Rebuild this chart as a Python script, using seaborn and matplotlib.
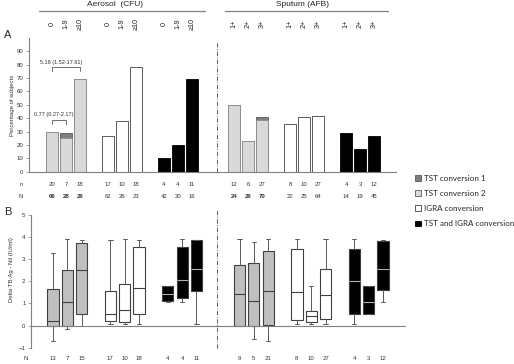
import matplotlib
matplotlib.use("Agg")
import matplotlib.pyplot as plt
import matplotlib.transforms as mtransforms
from matplotlib.patches import Patch
from matplotlib.lines import Line2D
import seaborn as sns

# %% data -----------------------------------------------------------------
aerosol_cats = ["0", "1-9", "\u226510"]
sputum_cats = ["1+", "2+", "3+"]

# Panel A: % of subjects converting (aerosol groups first, then sputum groups)
tst2_pct = [30, 25, 69, 50, 23, 39]
tst1_pct = [0, 4, 0, 0, 0, 2]
igra_pct = [27, 38, 78, 36, 41, 42]
both_pct = [10, 20, 69, 29, 17, 27]

# slot order: aerosol TST, IGRA, both | sputum TST, IGRA, both
n_row = [20, 7, 18, 17, 10, 18, 4, 4, 11, 12, 6, 27, 8, 10, 27, 4, 3, 12]
N_row = [66, 28, 26, 62, 26, 23, 42, 20, 16, 24, 26, 70, 22, 25, 64, 14, 19, 45]
or_labels = ["0.77 (0.27-2.17)", "5.18 (1.52-17.61)"]

# Panel B: Delta TB-Ag - Nil (IU/ml) box summaries, same slot order
box_lo = [-0.68, -0.17, 0.0, 0.06, 0.09, 0.09, 1.07, 1.07, 0.09,
          0.0, -0.62, -0.68, 0.05, 0.05, 0.09, 0.09, 0.54, 1.07]
box_q1 = [0.0, 0.0, 0.52, 0.2, 0.14, 0.5, 1.1, 1.22, 1.55,
          0.0, 0.0, 0.03, 0.26, 0.14, 0.29, 0.54, 0.54, 1.6]
box_med = [0.19, 1.06, 2.52, 0.5, 0.68, 1.68, 1.44, 2.07, 2.53,
           1.44, 1.11, 1.55, 1.5, 0.44, 1.4, 2.0, 1.05, 2.53]
box_q3 = [1.63, 2.49, 3.74, 1.58, 1.87, 3.53, 1.77, 3.53, 3.85,
          2.75, 2.8, 3.37, 3.44, 0.66, 2.53, 3.47, 1.77, 3.8]
box_hi = [3.28, 3.92, 3.88, 3.85, 3.9, 3.88, 1.8, 3.9, 3.88,
          3.9, 3.77, 3.9, 3.9, 1.8, 3.9, 3.9, 1.77, 3.88]
box_N = [13, 7, 15, 17, 10, 18, 4, 4, 11, 9, 5, 21, 8, 10, 27, 4, 3, 12]

# %% layout ---------------------------------------------------------------
sns.set_theme(style="white")
plt.rcParams["font.family"] = ["Liberation Sans", "DejaVu Sans"]

group_start = [0, 4, 8, 13, 17, 21]
slots = [g + i for g in group_start for i in range(3)]
series_groups = {"tst": (0, 3), "igra": (1, 4), "both": (2, 5)}


def series_pos(key):
    return [slots[g * 3 + i] for g in series_groups[key] for i in range(3)]


LIGHT = "#d9d9d9"
DARK = "#7f7f7f"
EDGE = "#404040"
TXT = "#333333"
NUM = 4.3
W, H = 514, 364

fig = plt.figure(figsize=(5.14, 3.64), dpi=100)
axA = fig.add_axes([29 / W, 1 - 171.7 / H, 367 / W, 133.7 / H])
axB = fig.add_axes([31 / W, 1 - 347.7 / H, 374 / W, 133 / H])

# %% panel A bars ---------------------------------------------------------
tst_total = [a + b for a, b in zip(tst2_pct, tst1_pct)]
bar_kw = dict(native_scale=True, width=0.85, saturation=1, errorbar=None, ax=axA)
sns.barplot(x=series_pos("tst"), y=tst_total, color=DARK, edgecolor="#595959",
            linewidth=0.6, **bar_kw)
sns.barplot(x=series_pos("tst"), y=tst2_pct, color=LIGHT, edgecolor="#8c8c8c",
            linewidth=0.6, **bar_kw)
sns.barplot(x=series_pos("igra"), y=igra_pct, color="white", edgecolor=EDGE,
            linewidth=0.6, **bar_kw)
sns.barplot(x=series_pos("both"), y=both_pct, color="black", edgecolor="black",
            linewidth=0.6, **bar_kw)

axA.set_xlim(-1.64, 24.57)
axA.set_ylim(0, 100)
axA.set_yticks(range(0, 100, 10))
axA.set_xticks([])
axA.set_xlabel("")
axA.set_ylabel("")
for s in ["top", "right"]:
    axA.spines[s].set_visible(False)
for s in ["left", "bottom"]:
    axA.spines[s].set_color("#808080")
    axA.spines[s].set_linewidth(0.8)
axA.tick_params(axis="y", labelsize=NUM, length=2, width=0.5, color="#808080",
                pad=2, left=True, labelcolor=TXT)
axA.axvline(11.8, ymin=0, ymax=0.97, color=EDGE, lw=0.6, ls=(0, (5, 2, 1, 2)))

# odds ratio brackets
tst_pos = series_pos("tst")
for j, lab in zip([1, 2], or_labels):
    top = max(tst_total[:j + 1]) + 9
    x0, x1 = tst_pos[0], tst_pos[j]
    axA.plot([x0, x0, x1, x1], [top - 3, top, top, top - 3], color="#555555", lw=0.6)
    axA.text((x0 + x1) / 2 - 0.35, top + 2.0, lab, ha="center", va="bottom",
             fontsize=4.0, color=TXT)

# header, category labels, n/N rows
trA = mtransforms.blended_transform_factory(axA.transData, fig.transFigure)
cats = (aerosol_cats * 3) + (sputum_cats * 3)
for p, c in zip(slots, cats):
    fig.text(p, 1 - 24 / H, c, transform=trA, rotation=90, ha="center",
             va="center", fontsize=5.2, color="#222222")
for idx, (p, n, N) in enumerate(zip(slots, n_row, N_row)):
    fig.text(p, 1 - 185 / H, str(n), transform=trA, ha="center", va="center",
             fontsize=NUM, color=TXT)
    bold = idx < 3 or 9 <= idx < 12
    fig.text(p, 1 - 197 / H, str(N), transform=trA, ha="center", va="center",
             fontsize=NUM, color=TXT, fontweight="bold" if bold else "normal")
fig.text(21 / W, 1 - 185 / H, "n", ha="center", va="center", fontsize=NUM, color=TXT)
fig.text(21 / W, 1 - 197 / H, "N", ha="center", va="center", fontsize=NUM, color=TXT)

for x0, x1, xc, lab in [(-0.93, 10.9, 4.5, "Aerosol  (CFU)"),
                        (12.36, 24.0, 17.86, "Sputum (AFB)")]:
    fig.add_artist(Line2D([x0, x1], [1 - 10.7 / H] * 2, transform=trA,
                          color="#808080", lw=0.9))
    fig.text(xc, 1 - 4.5 / H, lab, transform=trA, ha="center", va="center",
             fontsize=6.0, color="#222222")

fig.text(4 / W, 1 - 35 / H, "A", ha="left", va="center", fontsize=8)
fig.text(13 / W, 1 - 105 / H, "Percentage of subjects", rotation=90,
         ha="center", va="center", fontsize=4.3, color=TXT)

# %% panel B boxes --------------------------------------------------------
stats = [dict(whislo=lo, q1=q1, med=md, q3=q3, whishi=hi)
         for lo, q1, md, q3, hi in zip(box_lo, box_q1, box_med, box_q3, box_hi)]
styles = {"tst": ("#bfbfbf", EDGE), "igra": ("white", EDGE), "both": ("black", "#b0b0b0")}
for key, (fc, medc) in styles.items():
    idx = [g * 3 + i for g in series_groups[key] for i in range(3)]
    axB.bxp([stats[i] for i in idx], positions=[slots[i] for i in idx],
            widths=0.78, capwidths=0.3, patch_artist=True, showfliers=False,
            boxprops=dict(facecolor=fc, edgecolor=EDGE, linewidth=0.8),
            medianprops=dict(color=medc, linewidth=0.8),
            whiskerprops=dict(color="#595959", linewidth=0.7),
            capprops=dict(color="#595959", linewidth=0.7))

axB.set_xlim(-1.53, 24.53)
axB.set_ylim(-1, 5)
axB.set_yticks(range(-1, 6))
axB.set_xticks([])
for s in ["top", "right"]:
    axB.spines[s].set_visible(False)
axB.spines["bottom"].set_position(("data", 0))
for s in ["left", "bottom"]:
    axB.spines[s].set_color("#808080")
    axB.spines[s].set_linewidth(0.8)
axB.tick_params(axis="y", labelsize=NUM, length=2, width=0.5, color="#808080",
                pad=2, left=True, labelcolor=TXT)
axB.axvline(11.43, ymin=0, ymax=1.04, color=EDGE, lw=0.6, ls=(0, (5, 2, 1, 2)),
            clip_on=False)

trB = mtransforms.blended_transform_factory(axB.transData, fig.transFigure)
for p, N in zip(slots, box_N):
    fig.text(p, 1 - 359 / H, str(N), transform=trB, ha="center", va="center",
             fontsize=NUM, color=TXT)
fig.text(26 / W, 1 - 359 / H, "N", ha="center", va="center", fontsize=NUM, color=TXT)
fig.text(4 / W, 1 - 212 / H, "B", ha="left", va="center", fontsize=8)
fig.text(12 / W, 1 - 270 / H, "Delta TB-Ag - Nil (IU/ml)", rotation=90,
         ha="center", va="center", fontsize=4.3, color=TXT)

# %% legend ---------------------------------------------------------------
handles = [Patch(facecolor=DARK, edgecolor="#595959", lw=0.6, label="TST conversion 1"),
           Patch(facecolor=LIGHT, edgecolor="#595959", lw=0.6, label="TST conversion 2"),
           Patch(facecolor="white", edgecolor=EDGE, lw=0.6, label="IGRA conversion"),
           Patch(facecolor="black", edgecolor="black", lw=0.6, label="TST and IGRA conversion")]
fig.legend(handles=handles, loc="upper left", bbox_to_anchor=(415 / W, 1 - 175 / H),
           frameon=False, handlelength=0.7, handleheight=0.7,
           handletextpad=0.4, labelspacing=1.0, borderpad=0, borderaxespad=0,
           prop={"family": ["Lato", "DejaVu Sans"], "size": 5.8})

fig.savefig("out.png", dpi=100)
